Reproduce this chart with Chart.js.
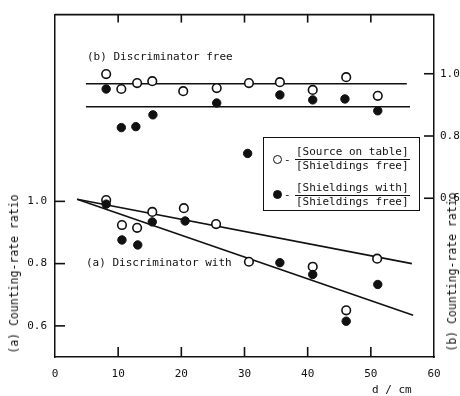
<!DOCTYPE html>
<html>
<head>
<meta charset="utf-8">
<script src="https://cdn.jsdelivr.net/npm/chart.js@4/dist/chart.umd.min.js"></script>
<style>
  html, body { margin: 0; padding: 0; background: #fff; overflow: hidden; }
  #wrap { position: relative; width: 460px; height: 396px; font-family: "DejaVu Sans Mono", monospace; color: #111; }
  #c { position: absolute; left: 0; top: 0; }
  .t { position: absolute; white-space: nowrap; font-size: 11px; line-height: 13px; }
  .vt { position: absolute; white-space: nowrap; font-size: 11.5px; transform: translate(-50%, -50%) rotate(-90deg); }
  #legend { position: absolute; left: 263px; top: 137px; width: 157px; height: 74px; border: 1.5px solid #111; box-sizing: border-box; }
  .frac { position: absolute; font-size: 11px; line-height: 12px; }
  .frac span { display: block; padding: 0 1px; }
  .frac span.num { border-bottom: 1.3px solid #111; padding-bottom: 1px; }
  .mk { position: absolute; width: 7px; height: 7px; border-radius: 50%; border: 1.5px solid #111; background: #fff; }
  .mk.f { background: #111; }
  .dash { position: absolute; font-size: 11px; line-height: 12px; }
</style>
</head>
<body>
<div id="wrap">
  <canvas id="c" width="460" height="396"></canvas>
  <div class="t" style="left:87px; top:50px;">(b) Discriminator free</div>
  <div class="t" style="left:86px; top:256px;">(a) Discriminator with</div>
  <div class="vt" style="left:14px; top:274px;">(a) Counting-rate ratio</div>
  <div class="vt" style="left:452px; top:272px;">(b) Counting-rate ratio</div>
  <div class="t" style="left:372px; top:383px;">d / cm</div>
  <div id="legend"></div>
  <div class="mk" style="left:273px; top:155px;"></div>
  <div class="dash" style="left:284px; top:154px;">-</div>
  <div class="frac" style="left:295px; top:146px;"><span class="num">[Source on table]</span><span>[Shieldings free]</span></div>
  <div class="mk f" style="left:273px; top:190px;"></div>
  <div class="dash" style="left:284px; top:189px;">-</div>
  <div class="frac" style="left:295px; top:182px;"><span class="num">[Shieldings with]</span><span>[Shieldings free]</span></div>
</div>
<script>
// ---- data ----
const xTickValues = [0, 10, 20, 30, 40, 50, 60];
const yTickValues = [0.6, 0.8, 1.0];

// (b) Discriminator free  (right axis)
const bOpenD      = [8.1, 10.5, 13.0, 15.4, 20.3, 25.6, 30.7, 35.6, 40.8, 46.1, 51.1];
const bOpenRatio  = [0.999, 0.951, 0.970, 0.976, 0.944, 0.954, 0.970, 0.973, 0.948, 0.989, 0.929];
const bFillD      = [8.1, 10.5, 12.8, 15.5, 25.6, 30.5, 35.6, 40.8, 45.9, 51.1];
const bFillRatio  = [0.951, 0.827, 0.830, 0.868, 0.906, 0.744, 0.932, 0.916, 0.919, 0.881];
const bOpenLineD  = [4.9, 55.7];
const bOpenLineR  = [0.968, 0.968];
const bFillLineD  = [4.9, 56.2];
const bFillLineR  = [0.894, 0.894];

// (a) Discriminator with  (left axis)
const aOpenD      = [8.1, 10.6, 13.0, 15.4, 20.4, 25.5, 30.7, 40.8, 46.1, 51.0];
const aOpenRatio  = [1.004, 0.924, 0.915, 0.966, 0.978, 0.927, 0.806, 0.790, 0.650, 0.816];
const aFillD      = [8.1, 10.6, 13.1, 15.4, 20.6, 35.6, 40.8, 46.1, 51.1];
const aFillRatio  = [0.991, 0.876, 0.860, 0.934, 0.937, 0.803, 0.765, 0.615, 0.733];
const aOpenLineD  = [3.5, 56.5];
const aOpenLineR  = [1.007, 0.800];
const aFillLineD  = [3.5, 56.7];
const aFillLineR  = [1.007, 0.634];

const INK = '#111';
const pts = (xs, ys) => xs.map((x, i) => ({ x: x, y: ys[i] }));

function pointSet(xs, ys, axis, filled) {
  return {
    type: 'scatter', data: pts(xs, ys), yAxisID: axis,
    pointRadius: filled ? 4.2 : 4.3,
    pointBackgroundColor: filled ? INK : '#fff',
    pointBorderColor: INK, pointBorderWidth: filled ? 1 : 1.6,
    showLine: false, order: filled ? 1 : 2
  };
}
function lineSet(xs, ys, axis) {
  return {
    type: 'line', data: pts(xs, ys), yAxisID: axis,
    borderColor: INK, borderWidth: 1.6, pointRadius: 0,
    fill: false, tension: 0, order: 10
  };
}

const tickFont = { family: 'DejaVu Sans Mono', size: 11 };
const setTicks = vals => scale => { scale.ticks = vals.map(v => ({ value: v })); };
const noGrid = { display: false, drawTicks: false };

// inward tick marks + top frame line, placed through the scales
const frameTicks = {
  id: 'frameTicks',
  afterDraw(chart) {
    const ctx = chart.ctx;
    const a = chart.chartArea;
    const sx = chart.scales.x, sl = chart.scales.ya, sr = chart.scales.yb;
    ctx.save();
    ctx.strokeStyle = INK;
    ctx.lineWidth = 1.6;
    ctx.lineCap = 'butt';
    const seg = (x1, y1, x2, y2) => { ctx.beginPath(); ctx.moveTo(x1, y1); ctx.lineTo(x2, y2); ctx.stroke(); };
    seg(a.left, a.top, a.right, a.top);
    for (const v of xTickValues) {
      const px = sx.getPixelForValue(v);
      if (px <= a.left + 2 || px >= a.right - 2) continue;
      seg(px, a.bottom, px, a.bottom - 10);
      seg(px, a.top, px, a.top + 8);
    }
    for (const v of yTickValues) {
      const pl = sl.getPixelForValue(v);
      seg(a.left, pl, a.left + 10, pl);
      const pr = sr.getPixelForValue(v);
      seg(a.right, pr, a.right - 10, pr);
    }
    ctx.restore();
  }
};

new Chart(document.getElementById('c'), {
  type: 'scatter',
  data: {
    datasets: [
      pointSet(bFillD, bFillRatio, 'yb', true),
      pointSet(bOpenD, bOpenRatio, 'yb', false),
      pointSet(aFillD, aFillRatio, 'ya', true),
      pointSet(aOpenD, aOpenRatio, 'ya', false),
      lineSet(bOpenLineD, bOpenLineR, 'yb'),
      lineSet(bFillLineD, bFillLineR, 'yb'),
      lineSet(aOpenLineD, aOpenLineR, 'ya'),
      lineSet(aFillLineD, aFillLineR, 'ya')
    ]
  },
  plugins: [frameTicks],
  options: {
    responsive: false, animation: false, devicePixelRatio: 1,
    layout: { padding: { top: 11, left: 0, right: 0, bottom: 0 } },
    plugins: { legend: { display: false }, tooltip: { enabled: false } },
    scales: {
      x: {
        type: 'linear', position: 'bottom', min: 0, max: 60,
        afterBuildTicks: setTicks(xTickValues),
        afterFit: s => { s.height = 39; },
        ticks: { font: tickFont, color: INK, padding: 11, maxRotation: 0, autoSkip: false, callback: v => String(v) },
        grid: noGrid,
        border: { display: true, color: INK, width: 1.5 }
      },
      ya: {
        type: 'linear', position: 'left', min: 0.5, max: 1.6,
        afterBuildTicks: setTicks(yTickValues),
        afterFit: s => { s.width = 55; },
        ticks: { font: tickFont, color: INK, padding: 8, callback: v => v.toFixed(1) },
        grid: noGrid,
        border: { display: true, color: INK, width: 1.5 }
      },
      yb: {
        type: 'linear', position: 'right', min: 0.09, max: 1.19,
        afterBuildTicks: setTicks(yTickValues),
        afterFit: s => { s.width = 26; },
        ticks: { font: tickFont, color: INK, padding: 6, callback: v => v.toFixed(1) },
        grid: noGrid,
        border: { display: true, color: INK, width: 1.5 }
      }
    }
  }
});
</script>
</body>
</html>
